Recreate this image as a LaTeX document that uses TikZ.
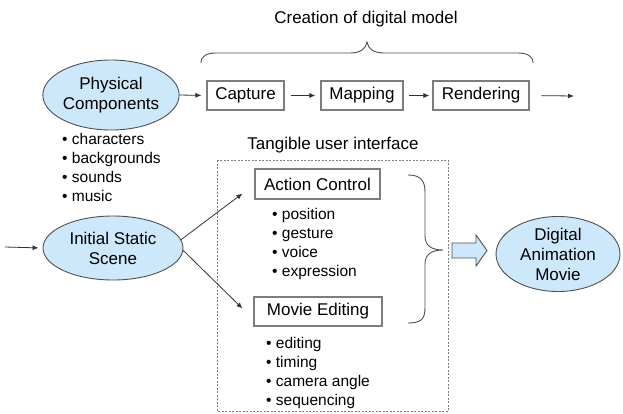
\documentclass[tikz,border=0pt]{standalone}
\usepackage{fontspec}
\setmainfont{Liberation Sans}
\usetikzlibrary{shapes.geometric,arrows.meta,calc}
\definecolor{ellfill}{RGB}{205,232,250}
\definecolor{edgecol}{RGB}{80,80,80}
\definecolor{boxline}{RGB}{125,125,125}
\begin{document}
\begin{tikzpicture}[x=1pt,y=-1pt,
  bigtext/.style={font=\fontsize{17}{20}\selectfont, inner sep=0},
  item/.style={font=\fontsize{15.5}{19}\selectfont, anchor=base west, inner sep=0},
  ell/.style={ellipse, draw=edgecol, line width=0.9pt, fill=ellfill, inner sep=0, align=center, font=\fontsize{17}{20}\selectfont},
  stepbox/.style={draw=boxline, line width=1.1pt, inner sep=0, minimum height=29pt, font=\fontsize{17}{20}\selectfont},
  conn/.style={draw=black!80, line width=0.8pt, -{Latex[length=6pt,width=5pt]}},
  bracestyle/.style={draw=edgecol, line width=0.9pt},
]
\useasboundingbox (0,0) rectangle (623,413);

% titles
\node[bigtext, anchor=base] (ttl1) at (366,23) {Creation of digital model};
\node[bigtext, anchor=base] (ttl2) at (333,149) {Tangible user interface};

% top brace
\draw[bracestyle] (201,63) .. controls (201,56) and (207,53) .. (216,53) -- (350,53)
  .. controls (360,53) and (366,49) .. (367,42)
  .. controls (368,49) and (374,53) .. (384,53) -- (518,53)
  .. controls (527,53) and (533,56) .. (533,63);

% dashed box
\draw[boxline, line width=0.8pt, dash pattern=on 2pt off 1.5pt] (217,160) rectangle (448,411);

% ellipses
\node[ell, minimum width=124pt, minimum height=70pt] (pc) at (111,95) {Physical\\Components};
\node[ell, minimum width=140pt, minimum height=64pt] (iss) at (113,248) {Initial Static\\Scene};
\node[ell, minimum width=124pt, minimum height=75pt] (dam) at (558,254) {Digital\\Animation\\Movie};

% boxes
\node[stepbox, minimum width=77pt] (cap) at (245.5,95.5) {Capture};
\node[stepbox, minimum width=82pt] (map) at (362,95.5) {Mapping};
\node[stepbox, minimum width=96pt] (ren) at (481,95.5) {Rendering};
\node[stepbox, minimum width=125pt, minimum height=30pt] (ac) at (317.5,184) {Action Control};
\node[stepbox, minimum width=128pt] (me) at (318,311.5) {Movie Editing};

% bullet lists
\node[item] (b1) at (62,144) {• characters};
\node[item] (b2) at (62,163) {• backgrounds};
\node[item] (b3) at (62,182) {• sounds};
\node[item] (b4) at (62,201) {• music};

\node[item] (a1) at (272,219) {• position};
\node[item] (a2) at (272,238) {• gesture};
\node[item] (a3) at (272,257) {• voice};
\node[item] (a4) at (272,276) {• expression};

\node[item] (m1) at (266,348) {• editing};
\node[item] (m2) at (266,367) {• timing};
\node[item] (m3) at (266,386) {• camera angle};
\node[item] (m4) at (266,405) {• sequencing};

% connectors
\coordinate (outR) at (574,96);
\coordinate (inL) at (5,247);
\draw[conn, shorten >=5pt] (pc.east) -- (cap.west);
\draw[conn, shorten <=6pt, shorten >=5pt] (cap.east) -- (map.west);
\draw[conn, shorten <=5pt, shorten >=3pt] (map.east) -- (ren.west);
\draw[conn, shorten <=12pt] (ren.east) -- (outR);
\draw[conn, shorten >=4pt] (inL) -- (iss.west);
\draw[conn] (iss.7) -- ($(ac.south west)+(-12,-6)$);
\draw[conn] (iss.-2) -- ($(me.west)+(-11,-3)$);

% right brace
\draw[bracestyle] (408,175) .. controls (420,175) and (425,180) .. (425,192) -- (425,236)
  .. controls (425,246) and (432,250) .. (443,250)
  .. controls (432,250) and (425,254) .. (425,264) -- (425,308)
  .. controls (425,320) and (420,323) .. (408,323);

% hollow arrow
\draw[draw=edgecol, line width=0.9pt, fill=ellfill] (452,243) -- (476,243) -- (476,235) -- (487,250.5)
  -- (476,266) -- (476,258) -- (452,258) -- cycle;
\end{tikzpicture}
\end{document}
